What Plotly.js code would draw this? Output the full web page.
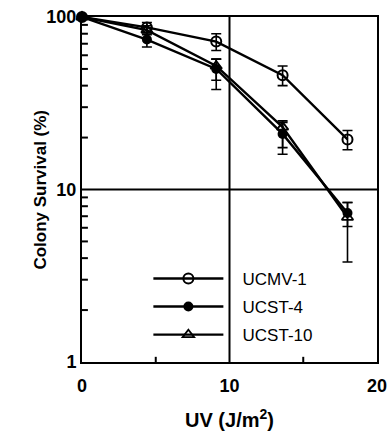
<!DOCTYPE html>
<html><head><meta charset="utf-8">
<script src="https://cdn.plot.ly/plotly-3.0.1.min.js"></script>
<style>html,body{margin:0;padding:0;background:#fff}#c{width:388px;height:431px}</style>
</head><body><div id="c"></div>
<script>
const doses = [0, 4.4, 9.1, 13.6, 18.0];
const ucmv1 = [100, 87, 72, 46, 19.5];
const ucmv1Err = [0, 6, 8, 6, 2.5];
const ucst4 = [100, 74, 50, 21, 7.3];
const ucst4ErrPlus = [0, 7, 7, 3.5, 1.1];
const ucst4ErrMinus = [0, 7, 7, 3.5, 1.2];
const ucst10 = [100, 84, 52, 23, 6.9];
const ucst10ErrPlus = [0, 5, 5, 2, 1.5];
const ucst10ErrMinus = [0, 5, 14, 7, 3.1];
const names = ['UCMV-1', 'UCST-4', 'UCST-10'];
const xTicks = [0, 10, 20];
const xMinor = [5, 15];
const yTicks = [1, 10, 100];
const yMinor = [2,3,4,5,6,7,8,9,20,30,40,50,60,70,80,90];
const gridX = 10;
const gridY = 10;
const yTitle = 'Colony Survival (%)';

const pad = '\u00a0\u00a0\u00a0';
const errStyle = {color:'black', thickness:1.6, width:5};
const traces = [
  {x:doses, y:ucmv1, name:pad + names[0], legendgroup:'a',
   error_y:Object.assign({type:'data', array:ucmv1Err, symmetric:true}, errStyle),
   marker:{symbol:'circle-open', size:10, color:'black', line:{width:2}}},
  {x:doses, y:ucst4, name:pad + names[1], legendgroup:'b',
   error_y:Object.assign({type:'data', array:ucst4ErrPlus, arrayminus:ucst4ErrMinus, symmetric:false}, errStyle),
   marker:{symbol:'circle', size:10, color:'black'}},
  {x:doses, y:ucst10, name:pad + names[2], legendgroup:'c',
   error_y:Object.assign({type:'data', array:ucst10ErrPlus, arrayminus:ucst10ErrMinus, symmetric:false}, errStyle),
   marker:{symbol:'triangle-up-open', size:10, color:'black', line:{width:1.8}}}
].map(t => Object.assign({type:'scatter', mode:'lines+markers', line:{color:'black', width:2.4}, cliponaxis:false}, t));

const tickShapes = [];
xMinor.forEach(v => tickShapes.push({type:'line', xref:'x', yref:'paper', x0:v, x1:v, y0:0, y1:0.015,
  line:{color:'black', width:2}}));
yMinor.forEach(v => tickShapes.push({type:'line', xref:'paper', yref:'y', x0:0, x1:0.02, y0:v, y1:v,
  line:{color:'black', width:2}}));

const font = {family:'Liberation Sans, Arial, sans-serif', color:'black'};
const layout = {
  width:388, height:431,
  margin:{l:82, r:11, t:17, b:69},
  paper_bgcolor:'white', plot_bgcolor:'white',
  font:Object.assign({size:14}, font),
  showlegend:true,
  legend:{x:0.225, y:0.293, xanchor:'left', yanchor:'top', bgcolor:'rgba(0,0,0,0)', itemwidth:70,
    font:Object.assign({size:17}, font), tracegroupgap:3, traceorder:'grouped'},
  xaxis:{range:[0,20], tickmode:'array', tickvals:xTicks, ticks:'', ticklabelstandoff:6,
    showline:true, mirror:true, linewidth:2, linecolor:'black', showgrid:false, zeroline:false,
    tickfont:Object.assign({size:18, weight:'bold'}, font),
    title:{text:'<b>UV (J/m<sup>2</sup>)</b>', font:Object.assign({size:20}, font), standoff:23}},
  yaxis:{type:'log', range:[0,2], tickmode:'array', tickvals:yTicks, ticktext:['1','10','100'],
    ticks:'', showline:true, mirror:true,
    linewidth:2, linecolor:'black', showgrid:false, zeroline:false,
    tickfont:Object.assign({size:18, weight:'bold'}, font)},
  shapes:[
    {type:'line', xref:'x', yref:'paper', x0:gridX, x1:gridX, y0:0, y1:1, line:{color:'black', width:2}, layer:'below'},
    {type:'line', xref:'paper', yref:'y', x0:0, x1:1, y0:gridY, y1:gridY, line:{color:'black', width:2}, layer:'below'}
  ].concat(tickShapes),
  annotations:[{xref:'paper', yref:'paper', x:-0.142, y:0.5, xanchor:'center', yanchor:'middle', textangle:-90,
    showarrow:false, text:'<b>' + yTitle + '</b>', font:Object.assign({size:17}, font)}]
};
Plotly.newPlot('c', traces, layout, {displayModeBar:false, staticPlot:true});
</script></body></html>
